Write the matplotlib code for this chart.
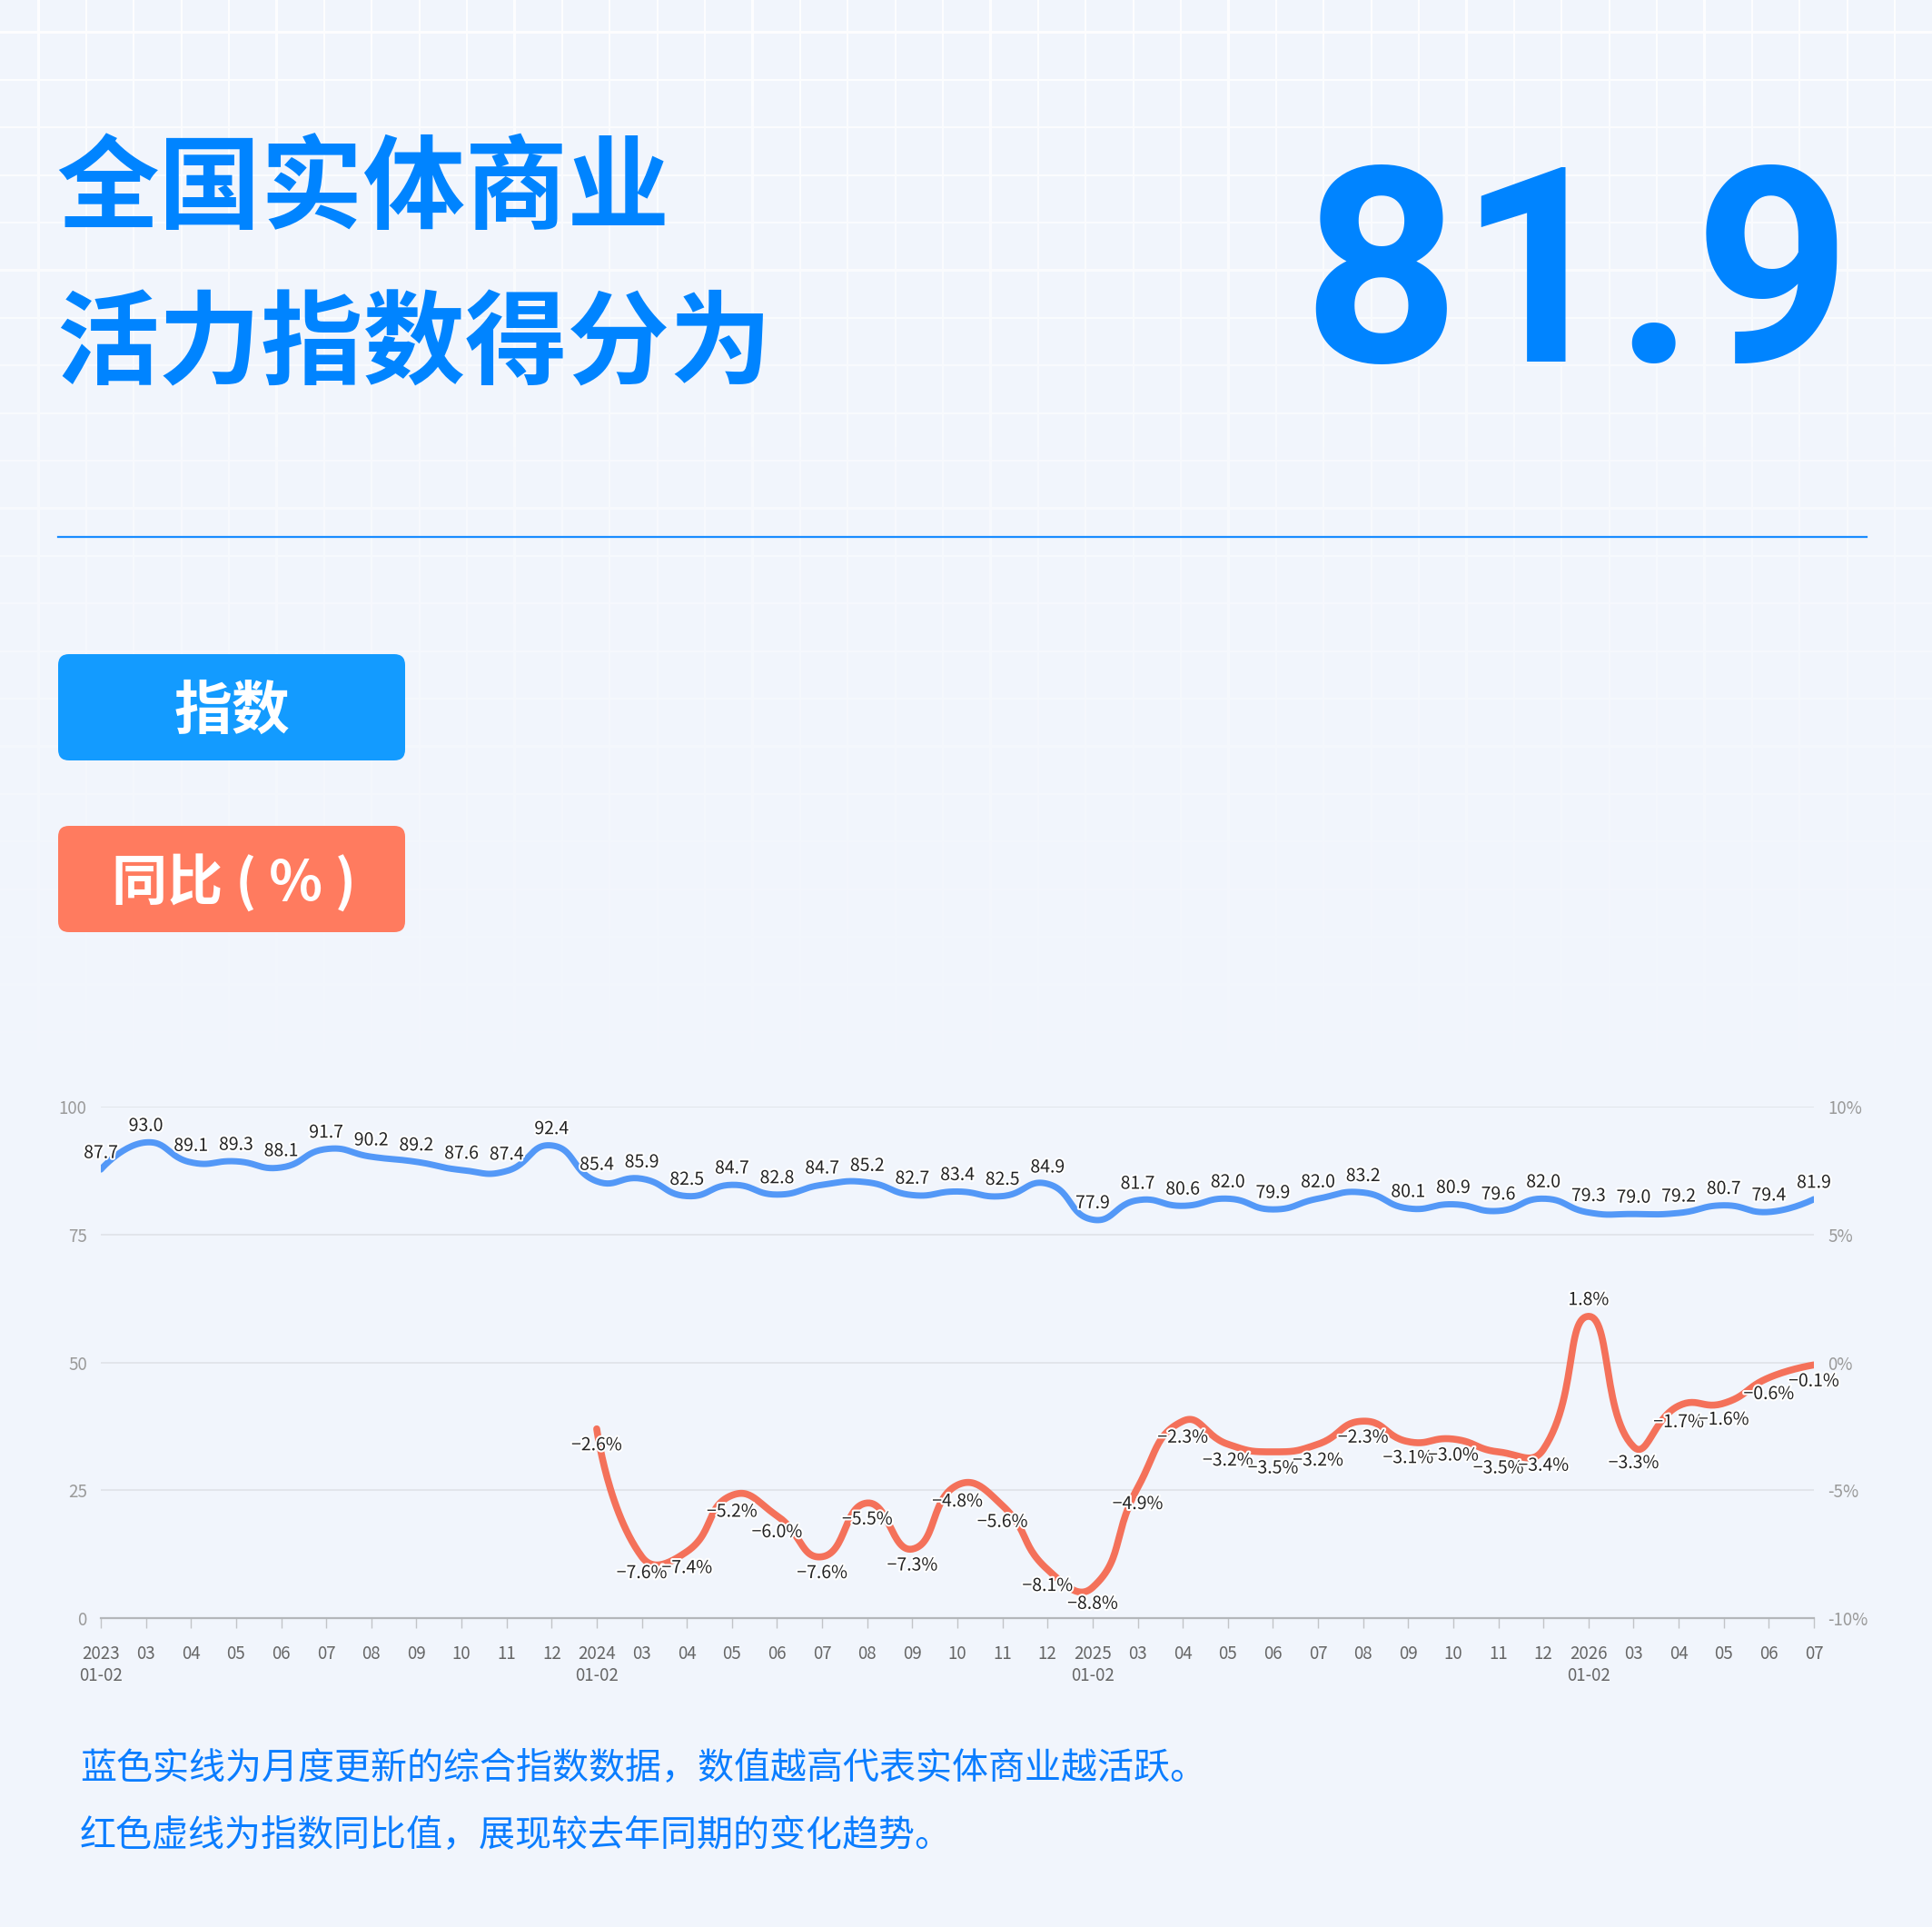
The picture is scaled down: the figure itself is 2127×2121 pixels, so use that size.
import numpy as np
import matplotlib
matplotlib.use('Agg')
import matplotlib.pyplot as plt
import matplotlib.patheffects as pe
from matplotlib.patches import FancyBboxPatch

plt.rcParams['font.family'] = ['Noto Sans CJK SC', 'DejaVu Sans']
plt.rcParams['axes.unicode_minus'] = True

W, H = 2127, 2121

# x axis categories
months = ['2023\n01-02', '03', '04', '05', '06', '07', '08', '09', '10', '11', '12',
          '2024\n01-02', '03', '04', '05', '06', '07', '08', '09', '10', '11', '12',
          '2025\n01-02', '03', '04', '05', '06', '07', '08', '09', '10', '11', '12',
          '2026\n01-02', '03', '04', '05', '06', '07']

# composite index (left axis)
index_vals = [87.7, 93.0, 89.1, 89.3, 88.1, 91.7, 90.2, 89.2, 87.6, 87.4, 92.4,
              85.4, 85.9, 82.5, 84.7, 82.8, 84.7, 85.2, 82.7, 83.4, 82.5, 84.9,
              77.9, 81.7, 80.6, 82.0, 79.9, 82.0, 83.2, 80.1, 80.9, 79.6, 82.0,
              79.3, 79.0, 79.2, 80.7, 79.4, 81.9]

# year-on-year change in % (right axis), none for 2023
yoy_vals = [None, None, None, None, None, None, None, None, None, None, None,
            -2.6, -7.6, -7.4, -5.2, -6.0, -7.6, -5.5, -7.3, -4.8, -5.6, -8.1,
            -8.8, -4.9, -2.3, -3.2, -3.5, -3.2, -2.3, -3.1, -3.0, -3.5, -3.4,
            1.8, -3.3, -1.7, -1.6, -0.6, -0.1]

left_ticks = [0, 25, 50, 75, 100]
right_ticks = [-10, -5, 0, 5, 10]

headline = '81.9'

TITLE_BLUE = '#0084ff'
LINE_BLUE = '#5398f7'
LINE_RED = '#f4715a'


def smooth_path(xs, ys, sx, sy, smooth=0.5, n=30):
    """echarts-like bezier smoothing, distances measured in pixel space"""
    pts = np.column_stack([xs, ys]).astype(float)
    scale = np.array([sx, sy])
    m = len(pts)
    cp_before = pts.copy()
    cp_after = pts.copy()
    for i in range(1, m - 1):
        prv, cur, nxt = pts[i - 1], pts[i], pts[i + 1]
        v = (nxt - prv) * smooth
        d0 = np.hypot(*((cur - prv) * scale))
        d1 = np.hypot(*((nxt - cur) * scale))
        r = d1 / (d0 + d1) if (d0 + d1) else 0.5
        cp_before[i] = cur - v * (1 - r)
        cp_after[i] = cur + v * r
    t = np.linspace(0, 1, n)[:, None]
    out = [pts[:1]]
    for i in range(m - 1):
        p0, p1, p2, p3 = pts[i], cp_after[i], cp_before[i + 1], pts[i + 1]
        seg = ((1 - t) ** 3) * p0 + 3 * ((1 - t) ** 2) * t * p1 \
            + 3 * (1 - t) * t ** 2 * p2 + t ** 3 * p3
        out.append(seg[1:])
    out = np.vstack(out)
    return out[:, 0], out[:, 1]


def fmt(v, suffix=''):
    return f'{v:.1f}{suffix}'.replace('-', '\u2212')


fig = plt.figure(figsize=(W / 100, H / 100), dpi=100)

# background with fading white grid
bg = fig.add_axes([0, 0, 1, 1])
base = np.array([241, 245, 252], dtype=np.float32) / 255
gx = ((np.arange(W) - 41) % 52.4) < 2.2
gy = ((np.arange(H) - 34) % 52.4) < 2.2
grid = gx[None, :] | gy[:, None]
fade = (np.clip(1 - np.arange(H) / 1350, 0, 1) ** 1.3 * 0.9).astype(np.float32)
img = base[None, None, :] + (grid * fade[:, None])[..., None] * (1 - base[None, None, :])
bg.imshow(img, extent=(0, W, H, 0), interpolation='nearest', aspect='auto')
bg.set_xlim(0, W)
bg.set_ylim(H, 0)
bg.axis('off')

# title block
bg.text(62, 243, '全国实体商业', fontsize=81, fontweight='bold', color=TITLE_BLUE,
        ha='left', va='baseline')
bg.text(62, 414, '活力指数得分为', fontsize=81, fontweight='bold', color=TITLE_BLUE,
        ha='left', va='baseline')
bg.text(2038, 398, headline, family='Roboto', fontweight='bold', fontsize=216,
        color=TITLE_BLUE, ha='right', va='baseline')
bg.plot([64, 2055], [591, 591], color='#1a8cff', lw=1.6)

# legend buttons
bg.add_patch(FancyBboxPatch((64, 720), 382, 117, boxstyle='round,pad=0,rounding_size=12',
                            fc='#139bff', ec='none'))
bg.text(255, 802, '指数', fontsize=46, fontweight='bold', color='white',
        ha='center', va='baseline')
bg.add_patch(FancyBboxPatch((64, 909), 382, 117, boxstyle='round,pad=0,rounding_size=12',
                            fc='#ff7b5f', ec='none'))
bg.text(258, 991, '同比 ( % )', fontsize=44, fontweight='bold', color='white',
        ha='center', va='baseline')

# notes
bg.text(88, 1958, '蓝色实线为月度更新的综合指数数据，数值越高代表实体商业越活跃。',
        fontsize=28.8, fontweight='medium', color='#0a7dff', ha='left', va='baseline')
bg.text(88, 2032, '红色虚线为指数同比值，展现较去年同期的变化趋势。',
        fontsize=28.8, fontweight='medium', color='#0a7dff', ha='left', va='baseline')

# chart
x0, x1, y_top, y_bot = 111, 1997, 1218, 1781
ax = fig.add_axes([x0 / W, 1 - y_bot / H, (x1 - x0) / W, (y_bot - y_top) / H])
ax.patch.set_alpha(0)
ax.set_xlim(0, len(months) - 1)
ax.set_ylim(0, 100)
ax.set_yticks(left_ticks)
ax.set_yticklabels([str(t) for t in left_ticks])
ax.grid(axis='y', color='#dfe2e8', lw=1.2)
ax.set_axisbelow(True)
for s in ['top', 'left', 'right']:
    ax.spines[s].set_visible(False)
ax.spines['bottom'].set_color('#b4b6ba')
ax.spines['bottom'].set_linewidth(1.6)
ax.set_xticks(range(len(months)))
ax.set_xticklabels(months, fontsize=13.5, color='#666666', linespacing=1.2)
ax.tick_params(axis='x', length=8, width=1, color='#c2c4c8', pad=13)
ax.tick_params(axis='y', length=0, pad=11, labelsize=13.5, labelcolor='#9a9a9a')

px_x = (x1 - x0) / (len(months) - 1)
xs = np.arange(len(months))
sx, sy = smooth_path(xs, index_vals, px_x, (y_bot - y_top) / 100)
ax.plot(sx, sy, color=LINE_BLUE, lw=5, solid_capstyle='round', zorder=3)
for i, v in enumerate(index_vals):
    ax.annotate(fmt(v), (i, v), xytext=(0, 13), textcoords='offset points',
                ha='center', va='center', fontsize=14, color='#222222', zorder=5,
                path_effects=[pe.withStroke(linewidth=3, foreground='white')])

ax2 = ax.twinx()
ax2.set_ylim(-10, 10)
ax2.set_yticks(right_ticks)
ax2.set_yticklabels([f'{t}%' for t in right_ticks])
ax2.tick_params(axis='y', length=0, pad=11, labelsize=13.5, labelcolor='#9a9a9a')
for s in ax2.spines.values():
    s.set_visible(False)

yx = [i for i, v in enumerate(yoy_vals) if v is not None]
yv = [v for v in yoy_vals if v is not None]
rx, ry = smooth_path(yx, yv, px_x, (y_bot - y_top) / 20)
ax2.plot(rx, ry, color=LINE_RED, lw=5.5, solid_capstyle='round', zorder=3)
for i, v in zip(yx, yv):
    dy = 13 if v > 0 else -13
    ax2.annotate(fmt(v, '%'), (i, v), xytext=(0, dy), textcoords='offset points',
                 ha='center', va='center', fontsize=14, color='#222222', zorder=5,
                 path_effects=[pe.withStroke(linewidth=3, foreground='white')])

fig.savefig('out.png', dpi=100)
